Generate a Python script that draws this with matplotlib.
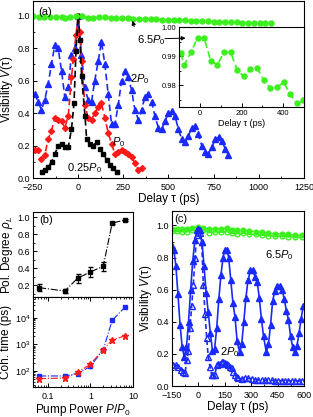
import numpy as np
import matplotlib
matplotlib.use('Agg')
import matplotlib.pyplot as plt
from matplotlib.ticker import MultipleLocator, LogLocator, NullFormatter, FixedLocator, FixedFormatter

plt.rcParams['font.family'] = ['Liberation Sans', 'DejaVu Sans']
plt.rcParams['mathtext.fontset'] = 'custom'
plt.rcParams['mathtext.rm'] = 'Liberation Sans'
plt.rcParams['mathtext.it'] = 'Liberation Sans:italic'
plt.rcParams['mathtext.bf'] = 'Liberation Sans:bold'

GREEN = '#3cf01e'
BLUE = '#1a2aff'
RED = '#ff1a1a'

# ---- panel (a): visibility vs delay, four pump powers
a_t_green = [-250, -218, -187, -155, -123, -92, -75, -43, -11, 21, 52, 84, 116, 148, 180, 211,
             243, 275, 306, 338, 370, 402, 433, 465, 497, 529, 560, 592, 624, 655, 687, 719,
             750, 782, 814, 845, 877, 909, 940, 972, 1004, 1035, 1067]
a_v_green = [0.995, 0.993, 0.994, 0.992, 0.990, 0.991, 0.987, 0.9913, 0.9962, 0.9962, 0.9884,
             0.9870, 0.9913, 0.9913, 0.9851, 0.9830, 0.9855, 0.9859, 0.9818, 0.9790, 0.9793,
             0.9810, 0.9770, 0.9738, 0.9749, 0.972, 0.970, 0.971, 0.968, 0.966, 0.967, 0.964,
             0.962, 0.963, 0.960, 0.958, 0.959, 0.957, 0.955, 0.956, 0.954, 0.952, 0.952]

a_t_blue = [-240, -222, -203, -185, -166, -148, -129, -111, -92, -74, -55, -37, -18, 0, 18, 37,
            55, 74, 92, 111, 129, 148, 166, 185, 203, 222, 240, 259, 277, 296, 314, 333, 351,
            370, 388, 407, 425, 444, 462, 481, 499, 518, 536, 555, 573, 592, 610, 629, 647, 666,
            684, 703, 721, 740, 758, 777, 795, 814, 832]
a_v_blue = [0.52, 0.47, 0.42, 0.48, 0.58, 0.70, 0.82, 0.80, 0.66, 0.50, 0.56, 0.76, 0.80, 1.00,
            0.76, 0.56, 0.48, 0.47, 0.60, 0.72, 0.84, 0.70, 0.52, 0.33, 0.33, 0.45, 0.60, 0.66,
            0.62, 0.54, 0.42, 0.36, 0.42, 0.50, 0.52, 0.47, 0.38, 0.31, 0.30, 0.35, 0.40, 0.41,
            0.38, 0.30, 0.24, 0.22, 0.26, 0.31, 0.32, 0.27, 0.20, 0.16, 0.15, 0.19, 0.24, 0.25,
            0.23, 0.18, 0.14]

a_t_red = [-240, -222, -203, -185, -166, -148, -129, -111, -92, -74, -55, -37, -27, -12, 0, 12,
           19, 37, 55, 74, 92, 111, 129, 148, 166, 185, 203, 222, 240, 259, 277, 296, 314, 333, 351]
a_v_red = [0.17, 0.17, 0.12, 0.14, 0.24, 0.29, 0.37, 0.36, 0.35, 0.31, 0.38, 0.62, 0.73, 0.88,
           1.00, 0.90, 0.72, 0.45, 0.37, 0.36, 0.40, 0.44, 0.46, 0.37, 0.28, 0.21, 0.15, 0.16,
           0.17, 0.16, 0.15, 0.13, 0.09, 0.05, 0.06]

a_t_black = [-202, -184, -165, -147, -128, -110, -92, -73, -55, -37, -23, -12, 0, 10, 19, 38,
             47, 65, 84, 102, 121, 139, 158, 176, 194, 213]
a_v_black = [0.04, 0.05, 0.07, 0.10, 0.15, 0.20, 0.21, 0.19, 0.19, 0.30, 0.46, 0.78, 1.00, 0.85,
             0.63, 0.38, 0.24, 0.21, 0.20, 0.22, 0.18, 0.15, 0.11, 0.08, 0.06, 0.04]

# ---- panel (b): polarisation degree and coherence time vs pump power
b_power = [0.0625, 0.25, 0.5, 1, 2, 3.25, 6.5]
b_pol = [0.17, 0.13, 0.28, 0.355, 0.42, 0.93, 0.965]
b_pol_err = [0.04, 0.02, 0.05, 0.06, 0.05, 0.01, 0.01]
b_coh_blue = [65, 65, 78, 150, 620, 8000, 25000]
b_coh_red = [52, 54, 88, 180, 640, 1450, 2100]

# ---- panel (c): 6.5 P0 and 2 P0 at finer delay steps
c_t_solid = [-150, -140, -128, -116, -104, -92, -80, -68, -56, -44, -32, -20, -8, 0, 8, 20, 32,
             44, 56, 68, 80, 92, 104, 116, 128, 140, 150, 162, 172, 184, 196, 208, 220, 234, 246,
             258, 270, 282, 296, 310, 322, 334, 346, 358, 370, 386, 398, 410, 422, 434, 448, 462,
             476, 488, 500, 512, 524, 536, 548, 560, 572, 584, 596]
c_v_solid = [0.87, 0.85, 0.75, 0.57, 0.38, 0.24, 0.18, 0.24, 0.40, 0.60, 0.78, 0.91, 0.97, 0.98,
             0.97, 0.90, 0.75, 0.58, 0.46, 0.33, 0.22, 0.23, 0.36, 0.54, 0.69, 0.80, 0.85, 0.85,
             0.80, 0.66, 0.52, 0.43, 0.28, 0.21, 0.26, 0.40, 0.55, 0.66, 0.72, 0.72, 0.68, 0.65,
             0.55, 0.42, 0.31, 0.21, 0.26, 0.38, 0.53, 0.59, 0.62, 0.62, 0.60, 0.54, 0.47, 0.41,
             0.31, 0.24, 0.21, 0.25, 0.33, 0.42, 0.50]

c_t_open = [-142, -128, -114, -100, -86, -76, -66, -57, -48, -38, -29, -19, -10, 0, 10, 19, 28,
            38, 47, 56, 66, 76, 85, 94, 104, 113, 123, 132, 142, 151, 161, 170, 180, 189, 199,
            208, 218, 227, 246, 265, 284, 303, 322, 341, 360, 379, 398, 417, 436, 455, 474, 493,
            512, 531, 550, 569, 588]
c_v_open = [0.13, 0.13, 0.12, 0.10, 0.09, 0.08, 0.16, 0.22, 0.36, 0.50, 0.63, 0.80, 0.94, 0.98,
            0.95, 0.90, 0.63, 0.45, 0.30, 0.18, 0.12, 0.07, 0.07, 0.07, 0.13, 0.14, 0.14, 0.15,
            0.15, 0.145, 0.14, 0.13, 0.12, 0.11, 0.09, 0.07, 0.055, 0.047, 0.045, 0.047, 0.048,
            0.045, 0.040, 0.038, 0.036, 0.036, 0.035, 0.035, 0.034, 0.034, 0.033, 0.033, 0.033,
            0.032, 0.032, 0.032, 0.031]

c_t_green = [-150, -123, -95, -66, -38, 0, 28, 62, 94, 127, 161, 189, 221, 255, 289, 327, 359,
             397, 435, 473, 511, 549, 587]
c_v_green = [0.975, 0.979, 0.978, 0.980, 0.985, 0.993, 0.985, 0.975, 0.979, 0.978, 0.984, 0.973,
             0.969, 0.970, 0.965, 0.962, 0.958, 0.952, 0.948, 0.947, 0.944, 0.941, 0.938]
c_v_green_open = [0.965, 0.968, 0.962, 0.960, 0.972, 0.985, 0.970, 0.955, 0.960, 0.957, 0.962,
                  0.950, 0.948, 0.950, 0.945, 0.944, 0.940, 0.936, 0.933, 0.934, 0.930, 0.928,
                  0.926]

TICK = 6.5
LAB = 8.5

fig = plt.figure(figsize=(3.13, 4.17), dpi=100)


def style(ax, top=False):
    ax.tick_params(which='both', direction='in', labelsize=TICK, top=top, right=False)
    ax.tick_params(axis='y', pad=2)
    ax.tick_params(axis='x', pad=3.5)
    ax.tick_params(which='major', length=3, width=0.7)
    ax.tick_params(which='minor', length=1.5, width=0.6)
    for s in ax.spines.values():
        s.set_linewidth(0.8)


# (a)
ax = fig.add_axes([0.1054, 0.5731, 0.8658, 0.4245])
dash = dict(ls='--', dashes=(4, 2.2), lw=1.2)
ax.plot(a_t_blue, a_v_blue, color=BLUE, marker='^', ms=4, **dash)
ax.plot(a_t_red, a_v_red, color=RED, marker='D', ms=3, **dash)
ax.plot(a_t_black, a_v_black, color='k', marker='s', ms=2.8, **dash)
ax.plot(a_t_green, a_v_green, color=GREEN, marker='o', ms=3.6, **dash)
ax.set_xlim(-250, 1250)
ax.set_ylim(0, 1.09)
ax.xaxis.set_major_locator(MultipleLocator(250))
ax.xaxis.set_minor_locator(MultipleLocator(125))
ax.yaxis.set_major_locator(MultipleLocator(0.2))
ax.yaxis.set_minor_locator(MultipleLocator(0.1))
style(ax)
ax.set_xlabel('Delay τ (ps)', fontsize=LAB, labelpad=1)
ax.set_ylabel('Visibility $V$(τ)', fontsize=LAB, labelpad=2)
ax.text(0.018, 0.965, '(a)', transform=ax.transAxes, fontsize=8, va='top')
ax.text(287, 0.59, '$2P_0$', fontsize=8)
ax.text(185, 0.20, '$P_0$', fontsize=8)
ax.text(-62, 0.045, r'$\mathit{0.25P_0}$', fontsize=8)
ax.text(326, 0.83, r'$\mathit{6.5P_0}$', fontsize=8)
ax.annotate('', xy=(296, 0.985), xytext=(315, 0.915),
            arrowprops=dict(arrowstyle='-|>', color='k', lw=0.7, mutation_scale=6))

# inset
ai = fig.add_axes([0.5719, 0.7434, 0.3994, 0.1918])
ai.plot(a_t_green, a_v_green, color=GREEN, marker='o', ms=3.6, ls='--', dashes=(4, 2.2), lw=1.2)
ai.set_xlim(-100, 500)
ai.set_ylim(0.9725, 1.0)
ai.xaxis.set_major_locator(MultipleLocator(200))
ai.xaxis.set_minor_locator(MultipleLocator(100))
ai.yaxis.set_major_locator(MultipleLocator(0.01))
ai.yaxis.set_minor_locator(MultipleLocator(0.005))
ai.yaxis.set_major_formatter(matplotlib.ticker.FormatStrFormatter('%.2f'))
style(ai)
ai.tick_params(labelsize=5.5)
ai.tick_params(axis='x', pad=2.5)
ai.set_xlabel('Delay τ (ps)', fontsize=6.5, labelpad=1)
ai.annotate('', xy=(-55, 0.9962), xycoords='data', xytext=(465, 0.858),
            textcoords=ax.transData, annotation_clip=False,
            arrowprops=dict(arrowstyle='-|>', color='k', lw=0.7, mutation_scale=6))

# (b) upper
b1 = fig.add_axes([0.1054, 0.2878, 0.3195, 0.2038])
b1.set_xscale('log')
b1.errorbar(b_power, b_pol, yerr=b_pol_err, color='k', marker='s', ms=3.2, ls='-.', lw=0.8,
            capsize=1.8, elinewidth=0.7)
b1.set_xlim(0.045, 10)
b1.set_ylim(0.06, 1.06)
b1.yaxis.set_major_locator(MultipleLocator(0.2))
b1.yaxis.set_minor_locator(MultipleLocator(0.1))
style(b1)
b1.tick_params(axis='x', which='both', bottom=False, labelbottom=False)
b1.set_ylabel(r'Pol. Degree $\rho_L$', fontsize=LAB, labelpad=2)
b1.text(0.06, 0.96, '(b)', transform=b1.transAxes, fontsize=8, va='top')

# (b) lower
b2 = fig.add_axes([0.1054, 0.0719, 0.3195, 0.2158])
b2.set_xscale('log')
b2.set_yscale('log')
b2.errorbar(b_power, b_coh_blue, yerr=[v * 0.1 for v in b_coh_blue], color=BLUE, marker='s',
            ms=3.2, ls='-.', lw=0.8, capsize=1, elinewidth=0.5)
b2.errorbar(b_power, b_coh_red, yerr=[v * 0.12 for v in b_coh_red], color=RED, marker='*',
            ms=5, ls='-.', lw=0.8, capsize=1, elinewidth=0.5)
b2.set_xlim(0.045, 10)
b2.set_ylim(25, 6e4)
b2.xaxis.set_major_locator(FixedLocator([0.1, 1, 10]))
b2.xaxis.set_major_formatter(FixedFormatter(['0.1', '1', '10']))
b2.xaxis.set_minor_locator(LogLocator(base=10, subs=np.arange(2, 10)))
b2.xaxis.set_minor_formatter(NullFormatter())
b2.yaxis.set_major_locator(FixedLocator([1e2, 1e3, 1e4]))
b2.yaxis.set_minor_locator(LogLocator(base=10, subs=np.arange(2, 10)))
b2.yaxis.set_minor_formatter(NullFormatter())
style(b2, top=True)
b2.set_xlabel('Pump Power $P/P_0$', fontsize=LAB, labelpad=1)
b2.set_ylabel('Coh. time (ps)', fontsize=LAB, labelpad=2)

# (c)
cx = fig.add_axes([0.5495, 0.0743, 0.4217, 0.4197])
cx.plot(c_t_green, c_v_green_open, color=GREEN, marker='o', ms=3.4, mfc='none', lw=1.0)
cx.plot(c_t_green, c_v_green, color=GREEN, marker='o', ms=3.4, lw=1.0)
cx.plot(c_t_open, c_v_open, color=BLUE, marker='^', ms=4, mfc='none', ls='--', dashes=(3, 1.8), lw=1.2)
cx.plot(c_t_solid, c_v_solid, color=BLUE, marker='^', ms=3.8, lw=1.2)
cx.set_xlim(-150, 600)
cx.set_ylim(0, 1.09)
cx.xaxis.set_major_locator(MultipleLocator(150))
cx.xaxis.set_minor_locator(MultipleLocator(75))
cx.yaxis.set_major_locator(MultipleLocator(0.2))
cx.yaxis.set_minor_locator(MultipleLocator(0.1))
style(cx)
cx.set_xlabel('Delay τ (ps)', fontsize=LAB, labelpad=1)
cx.set_ylabel('Visibility $V$(τ)', fontsize=LAB, labelpad=2)
cx.text(0.02, 0.985, '(c)', transform=cx.transAxes, fontsize=8, va='top')
cx.text(378, 0.795, '$6.5P_0$', fontsize=8)
cx.text(123, 0.19, '$2P_0$', fontsize=8)

fig.savefig('out.png', dpi=100)
